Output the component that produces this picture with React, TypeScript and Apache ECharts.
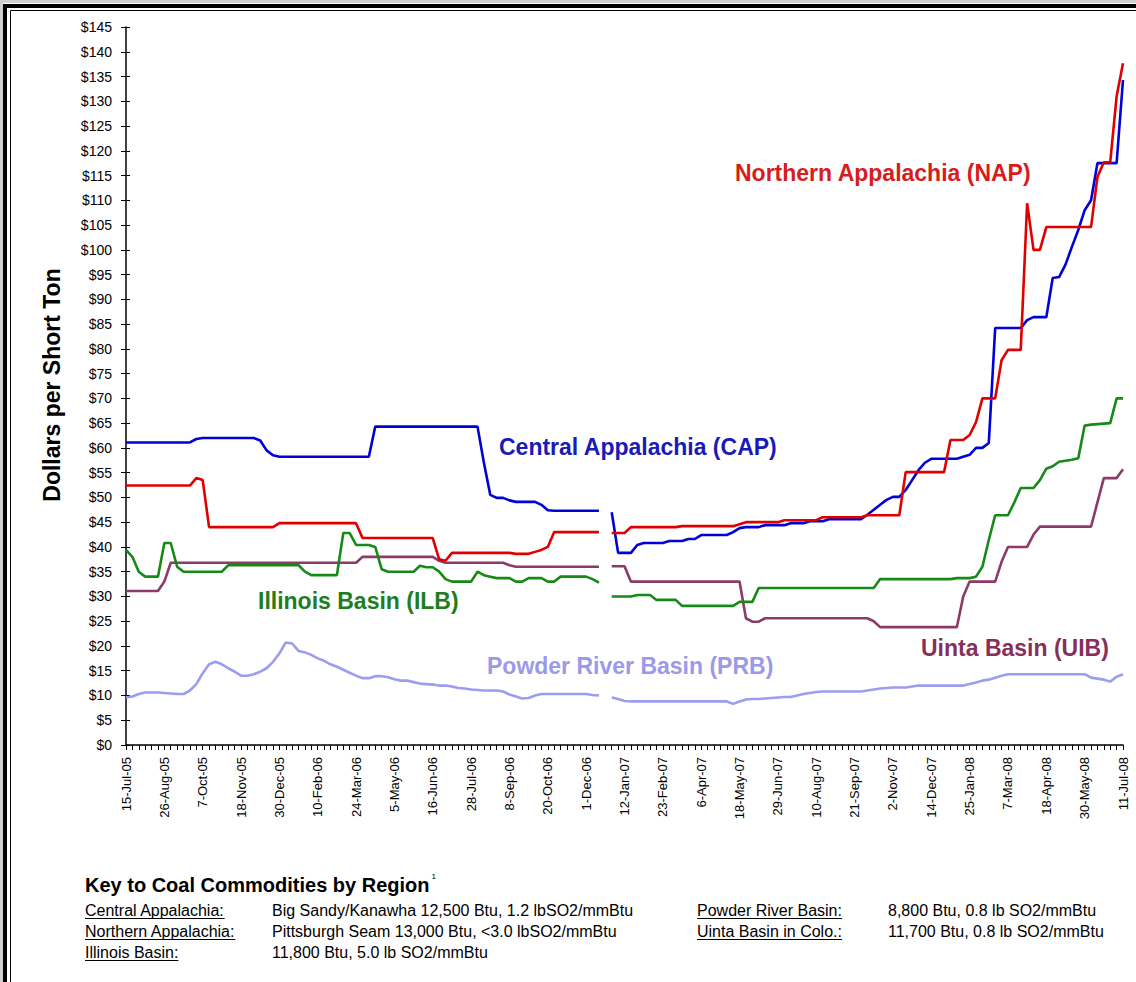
import React, { useEffect, useRef } from 'react';
import * as echarts from 'echarts';

// ---- Categories: weekly observations, 15-Jul-05 .. 11-Jul-08 ----
const START_DATE = Date.UTC(2005, 6, 15);
const WEEK_COUNT = 157;
const MONTHS = ['Jan', 'Feb', 'Mar', 'Apr', 'May', 'Jun', 'Jul', 'Aug', 'Sep', 'Oct', 'Nov', 'Dec'];
const categories: string[] = Array.from({ length: WEEK_COUNT }, (_, i) => {
  const d = new Date(START_DATE + i * 7 * 86400000);
  return `${d.getUTCDate()}-${MONTHS[d.getUTCMonth()]}-${String(d.getUTCFullYear() % 100).padStart(2, '0')}`;
});
const LABEL_EVERY = 6; // a tick label every 6 weeks

// ---- Series values ($ per short ton), null = no data ----
const cap = [
  61.1, 61.1, 61.1, 61.1, 61.1, 61.1, 61.1, 61.1, 61.1, 61.1,
  61.1, 61.8, 62, 62, 62, 62, 62, 62, 62, 62,
  62, 61.5, 59.5, 58.5, 58.2, 58.2, 58.2, 58.2, 58.2, 58.2,
  58.2, 58.2, 58.2, 58.2, 58.2, 58.2, 58.2, 58.2, 58.2, 64.3,
  64.3, 64.3, 64.3, 64.3, 64.3, 64.3, 64.3, 64.3, 64.3, 64.3,
  64.3, 64.3, 64.3, 64.3, 64.3, 64.3, 57, 50.5, 49.9, 49.9,
  49.4, 49.1, 49.1, 49.1, 49.1, 48.5, 47.4, 47.3, 47.3, 47.3,
  47.3, 47.3, 47.3, 47.3, 47.3, null, 47, 38.8, 38.8, 38.8,
  40.4, 40.8, 40.8, 40.8, 40.8, 41.2, 41.2, 41.2, 41.6, 41.6,
  42.4, 42.4, 42.4, 42.4, 42.4, 43, 43.8, 44, 44, 44,
  44.4, 44.4, 44.4, 44.4, 44.8, 44.8, 44.8, 45.2, 45.2, 45.2,
  45.6, 45.6, 45.6, 45.6, 45.6, 45.6, 46.5, 47.5, 48.5, 49.5,
  50.1, 50.1, 51.5, 53.5, 55.5, 57, 57.8, 57.8, 57.8, 57.8,
  57.8, 58.2, 58.6, 60, 60, 61, 84.2, 84.2, 84.2, 84.2,
  84.2, 85.8, 86.4, 86.4, 86.4, 94.3, 94.5, 97, 100.6, 104,
  108, 110, 117.5, 117.5, 117.5, 117.5, 134.3,
];
const nap = [
  52.4, 52.4, 52.4, 52.4, 52.4, 52.4, 52.4, 52.4, 52.4, 52.4,
  52.4, 53.9, 53.5, 44, 44, 44, 44, 44, 44, 44,
  44, 44, 44, 44, 44.8, 44.8, 44.8, 44.8, 44.8, 44.8,
  44.8, 44.8, 44.8, 44.8, 44.8, 44.8, 44.8, 41.8, 41.8, 41.8,
  41.8, 41.8, 41.8, 41.8, 41.8, 41.8, 41.8, 41.8, 41.8, 37.5,
  37.2, 38.8, 38.8, 38.8, 38.8, 38.8, 38.8, 38.8, 38.8, 38.8,
  38.8, 38.6, 38.6, 38.6, 39, 39.4, 40, 43, 43, 43,
  43, 43, 43, 43, 43, null, 42.8, 42.8, 42.8, 44,
  44, 44, 44, 44, 44, 44, 44, 44.2, 44.2, 44.2,
  44.2, 44.2, 44.2, 44.2, 44.2, 44.2, 44.6, 45, 45, 45,
  45, 45, 45, 45.4, 45.4, 45.4, 45.4, 45.4, 45.4, 46,
  46, 46, 46, 46, 46, 46, 46.4, 46.4, 46.4, 46.4,
  46.4, 46.4, 55.1, 55.1, 55.1, 55.1, 55.1, 55.1, 55.1, 61.6,
  61.6, 61.6, 62.6, 65.2, 70, 70, 70, 77.7, 79.8, 79.8,
  79.8, 109.4, 100, 100, 104.6, 104.6, 104.6, 104.6, 104.6, 104.6,
  104.6, 104.6, 114.7, 117.7, 117.7, 131, 137.7,
];
const ilb = [
  39.4, 38, 35, 34, 34, 34, 40.8, 40.8, 36, 35,
  35, 35, 35, 35, 35, 35, 36.3, 36.3, 36.3, 36.3,
  36.3, 36.3, 36.3, 36.3, 36.3, 36.3, 36.3, 36.3, 35, 34.3,
  34.3, 34.3, 34.3, 34.3, 42.8, 42.8, 40.4, 40.4, 40.4, 40,
  35.5, 35, 35, 35, 35, 35, 36.2, 35.9, 35.9, 35,
  33.5, 33, 33, 33, 33, 35, 34.3, 34, 33.7, 33.7,
  33.7, 33, 33, 33.7, 33.7, 33.7, 33, 33, 34, 34,
  34, 34, 34, 33.5, 32.8, null, 30, 30, 30, 30,
  30.3, 30.3, 30.3, 29.3, 29.3, 29.3, 29.3, 28.1, 28.1, 28.1,
  28.1, 28.1, 28.1, 28.1, 28.1, 28.1, 28.9, 28.9, 28.9, 31.7,
  31.7, 31.7, 31.7, 31.7, 31.7, 31.7, 31.7, 31.7, 31.7, 31.7,
  31.7, 31.7, 31.7, 31.7, 31.7, 31.7, 31.7, 31.7, 33.5, 33.5,
  33.5, 33.5, 33.5, 33.5, 33.5, 33.5, 33.5, 33.5, 33.5, 33.5,
  33.7, 33.7, 33.7, 34, 36, 41.4, 46.4, 46.4, 46.4, 49,
  51.9, 51.9, 51.9, 53.5, 55.8, 56.3, 57.2, 57.4, 57.6, 57.9,
  64.5, 64.7, 64.8, 64.9, 65, 70, 70,
];
const prb = [
  9.6, 9.8, 10.3, 10.6, 10.6, 10.6, 10.5, 10.4, 10.3, 10.3,
  11, 12.3, 14.5, 16.3, 16.8, 16.3, 15.5, 14.8, 14, 14,
  14.3, 14.8, 15.5, 16.8, 18.5, 20.7, 20.5, 19, 18.7, 18.2,
  17.5, 17, 16.3, 15.8, 15.2, 14.6, 14, 13.5, 13.5, 13.9,
  13.9, 13.7, 13.3, 13, 13, 12.7, 12.4, 12.3, 12.2, 12,
  12, 11.8, 11.5, 11.4, 11.2, 11.1, 11, 11, 11, 10.8,
  10.2, 9.8, 9.4, 9.5, 10, 10.3, 10.3, 10.3, 10.3, 10.3,
  10.3, 10.3, 10.3, 10.1, 10, null, 9.6, 9.3, 8.9, 8.8,
  8.8, 8.8, 8.8, 8.8, 8.8, 8.8, 8.8, 8.8, 8.8, 8.8,
  8.8, 8.8, 8.8, 8.8, 8.8, 8.3, 8.8, 9.2, 9.3, 9.3,
  9.4, 9.5, 9.6, 9.7, 9.7, 10, 10.3, 10.5, 10.7, 10.8,
  10.8, 10.8, 10.8, 10.8, 10.8, 10.8, 11, 11.2, 11.4, 11.5,
  11.6, 11.6, 11.6, 11.8, 12, 12, 12, 12, 12, 12,
  12, 12, 12.3, 12.6, 13, 13.2, 13.6, 14, 14.3, 14.3,
  14.3, 14.3, 14.3, 14.3, 14.3, 14.3, 14.3, 14.3, 14.3, 14.3,
  14.3, 13.6, 13.4, 13.2, 12.8, 13.8, 14.3,
];
const uib = [
  31.1, 31.1, 31.1, 31.1, 31.1, 31.1, 33, 36.8, 36.8, 36.8,
  36.8, 36.8, 36.8, 36.8, 36.8, 36.8, 36.8, 36.8, 36.8, 36.8,
  36.8, 36.8, 36.8, 36.8, 36.8, 36.8, 36.8, 36.8, 36.8, 36.8,
  36.8, 36.8, 36.8, 36.8, 36.8, 36.8, 36.8, 38, 38, 38,
  38, 38, 38, 38, 38, 38, 38, 38, 38, 37.2,
  36.8, 36.8, 36.8, 36.8, 36.8, 36.8, 36.8, 36.8, 36.8, 36.8,
  36.3, 36, 36, 36, 36, 36, 36, 36, 36, 36,
  36, 36, 36, 36, 36, null, 36.1, 36.1, 36.1, 33,
  33, 33, 33, 33, 33, 33, 33, 33, 33, 33,
  33, 33, 33, 33, 33, 33, 33, 25.6, 24.9, 24.9,
  25.6, 25.6, 25.6, 25.6, 25.6, 25.6, 25.6, 25.6, 25.6, 25.6,
  25.6, 25.6, 25.6, 25.6, 25.6, 25.6, 25.6, 25, 23.8, 23.8,
  23.8, 23.8, 23.8, 23.8, 23.8, 23.8, 23.8, 23.8, 23.8, 23.8,
  23.8, 30, 33, 33, 33, 33, 33, 37, 40, 40,
  40, 40, 42.5, 44.1, 44.1, 44.1, 44.1, 44.1, 44.1, 44.1,
  44.1, 44.1, 49, 53.9, 53.9, 53.9, 55.7,
];

const Y_MIN = 0;
const Y_MAX = 145;
const Y_STEP = 5;

const seriesNames = [
  'Central Appalachia (CAP)',
  'Northern Appalachia (NAP)',
  'Illinois Basin (ILB)',
  'Powder River Basin (PRB)',
  'Uinta Basin (UIB)',
];

const keyTitle = 'Key to Coal Commodities by Region';
const keyLeftNames = ['Central Appalachia:', 'Northern Appalachia:', 'Illinois Basin:'];
const keyLeftValues = [
  'Big Sandy/Kanawha 12,500 Btu, 1.2 lbSO2/mmBtu',
  'Pittsburgh Seam 13,000 Btu, <3.0 lbSO2/mmBtu',
  '11,800 Btu, 5.0 lb SO2/mmBtu',
];
const keyRightNames = ['Powder River Basin:', 'Uinta Basin in Colo.:'];
const keyRightValues = ['8,800 Btu, 0.8 lb SO2/mmBtu', '11,700 Btu, 0.8 lb SO2/mmBtu'];

const FONT = '"Liberation Sans", Arial, sans-serif';

export default function App() {
  const ref = useRef<HTMLDivElement>(null);

  useEffect(() => {
    const el = ref.current;
    if (!el) return;
    const chart = echarts.init(el, undefined, { renderer: 'svg' });

    const ctx = document.createElement('canvas').getContext('2d');
    const measure = (t: string, size: number, weight = 'normal') => {
      if (!ctx) return t.length * size * 0.5;
      ctx.font = `${weight} ${size}px "Liberation Sans"`;
      return ctx.measureText(t).width;
    };

    const colors = {
      cap: '#0000D8',
      nap: '#E00000',
      ilb: '#168A16',
      prb: '#9C9CF2',
      uib: '#8C3A68',
    };
    const labelColors = {
      cap: '#1A1AB8',
      nap: '#D81C1C',
      ilb: '#1E7E1E',
      prb: '#9A9AE8',
      uib: '#862F5E',
    };

    const chartLabel = (text: string, x: number, y: number, fill: string) => ({
      type: 'text',
      x,
      y,
      silent: true,
      style: {
        text,
        fill,
        fontSize: 23,
        fontWeight: 'bold',
        fontFamily: FONT,
        textAlign: 'left',
        textVerticalAlign: 'middle',
      },
    });

    const KEY_SIZE = 16;
    const keyElements: any[] = [];
    const addKeyRow = (name: string, value: string, nx: number, vx: number, y: number) => {
      keyElements.push({
        type: 'text', x: nx, y, silent: true,
        style: { text: name, fill: '#000', fontSize: KEY_SIZE, fontFamily: FONT, textAlign: 'left', textVerticalAlign: 'middle' },
      });
      const w = measure(name, KEY_SIZE);
      keyElements.push({
        type: 'line', silent: true,
        shape: { x1: nx, y1: y + 8.5, x2: nx + w, y2: y + 8.5 },
        style: { stroke: '#000', lineWidth: 1 },
      });
      keyElements.push({
        type: 'text', x: vx, y, silent: true,
        style: { text: value, fill: '#000', fontSize: KEY_SIZE, fontFamily: FONT, textAlign: 'left', textVerticalAlign: 'middle' },
      });
    };
    const rowY = [910, 931, 952];
    keyLeftNames.forEach((n, i) => addKeyRow(n, keyLeftValues[i], 85, 272, rowY[i]));
    keyRightNames.forEach((n, i) => addKeyRow(n, keyRightValues[i], 697, 888, rowY[i]));
    const titleW = measure(keyTitle, 20, 'bold');

    const lineSeries = (name: string, data: (number | null)[], color: string) => ({
      name,
      type: 'line',
      data,
      xAxisIndex: 0,
      yAxisIndex: 0,
      showSymbol: false,
      symbol: 'none',
      connectNulls: false,
      lineStyle: { color, width: 2.6 },
      itemStyle: { color },
      emphasis: { disabled: true },
      z: 3,
    });

    const option: any = {
      animation: false,
      backgroundColor: '#ffffff',
      grid: { left: 126, right: 13, top: 27, bottom: 237, containLabel: false },
      tooltip: { show: false },
      xAxis: {
        type: 'category',
        data: categories,
        boundaryGap: false,
        axisLine: { show: true, lineStyle: { color: '#000', width: 1.5 } },
        axisTick: { show: true, interval: 0, length: 5, lineStyle: { color: '#000', width: 1 } },
        axisLabel: {
          interval: (idx: number) => idx % LABEL_EVERY === 0,
          rotate: 90,
          fontSize: 13,
          fontFamily: FONT,
          color: '#000',
          margin: 12,
        },
        splitLine: { show: false },
      },
      yAxis: [
        {
          type: 'value',
          min: Y_MIN,
          max: Y_MAX,
          interval: Y_STEP,
          position: 'left',
          axisLine: { show: true, lineStyle: { color: '#000', width: 1.5 } },
          axisTick: { show: true, length: 5, lineStyle: { color: '#000', width: 1 } },
          axisLabel: {
            formatter: (v: number) => `$${v}`,
            fontSize: 14,
            fontFamily: FONT,
            color: '#000',
            margin: 14,
          },
          splitLine: { show: false },
        },
        {
          type: 'value',
          min: Y_MIN,
          max: Y_MAX,
          interval: Y_STEP,
          position: 'left',
          axisLine: { show: false },
          axisTick: { show: true, inside: true, length: 4, lineStyle: { color: '#000', width: 1 } },
          axisLabel: { show: false },
          splitLine: { show: false },
        },
      ],
      series: [
        lineSeries(seriesNames[3], prb, colors.prb),
        lineSeries(seriesNames[4], uib, colors.uib),
        lineSeries(seriesNames[2], ilb, colors.ilb),
        lineSeries(seriesNames[0], cap, colors.cap),
        lineSeries(seriesNames[1], nap, colors.nap),
      ],
      graphic: [
        { type: 'rect', silent: true, shape: { x: 0, y: 0, width: 1136, height: 3 }, style: { fill: '#cfcfcf' } },
        { type: 'rect', silent: true, shape: { x: 0, y: 0, width: 3, height: 982 }, style: { fill: '#cfcfcf' } },
        { type: 'rect', silent: true, shape: { x: 5, y: 6, width: 1200, height: 1100 }, style: { fill: 'none', stroke: '#000', lineWidth: 4 } },
        { type: 'rect', silent: true, shape: { x: 10.5, y: 10.5, width: 1200, height: 1100 }, style: { fill: 'none', stroke: '#000', lineWidth: 1 } },
        {
          type: 'text', x: 52, y: 385, rotation: Math.PI / 2, silent: true,
          style: {
            text: 'Dollars per Short Ton', fill: '#000', fontSize: 23, fontWeight: 'bold', fontFamily: FONT,
            textAlign: 'center', textVerticalAlign: 'middle',
          },
        },
        chartLabel(seriesNames[1], 735, 173, labelColors.nap),
        chartLabel(seriesNames[0], 499, 447, labelColors.cap),
        chartLabel(seriesNames[2], 258, 601, labelColors.ilb),
        chartLabel(seriesNames[3], 487, 666, labelColors.prb),
        chartLabel(seriesNames[4], 921, 648, labelColors.uib),
        {
          type: 'text', x: 85, y: 885, silent: true,
          style: { text: keyTitle, fill: '#000', fontSize: 20, fontWeight: 'bold', fontFamily: FONT, textAlign: 'left', textVerticalAlign: 'middle' },
        },
        {
          type: 'text', x: 85 + titleW + 2, y: 876, silent: true,
          style: { text: '1', fill: '#000', fontSize: 8, fontFamily: FONT, textAlign: 'left', textVerticalAlign: 'middle' },
        },
        ...keyElements,
      ],
    };

    chart.setOption(option);
    return () => chart.dispose();
  }, []);

  return (
    <div style={{ position: 'fixed', left: 0, top: 0, width: 1136, height: 982, margin: 0, padding: 0 }}>
      <div ref={ref} style={{ width: 1136, height: 982, background: '#fff' }} />
    </div>
  );
}
